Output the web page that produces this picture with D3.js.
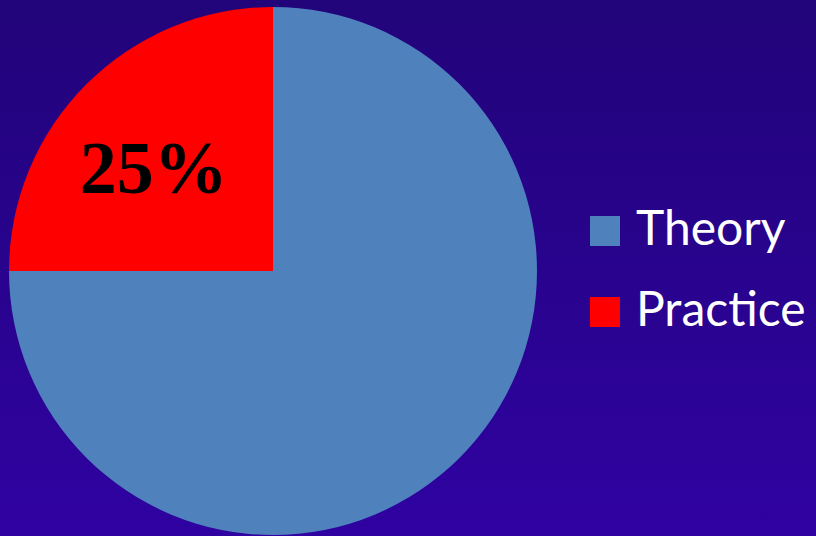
<!DOCTYPE html>
<html>
<head>
<meta charset="utf-8">
<script src="https://cdn.jsdelivr.net/npm/d3@7"></script>
<style>
  html, body { margin: 0; padding: 0; background: #22047a; }
  svg { display: block; }
</style>
</head>
<body>
<svg id="chart" width="816" height="536"></svg>
<script>
// Share of time split between theory and practice
const categories = ["Theory", "Practice"];
const values = [75, 25];
const colors = ["#4f81bd", "#ff0000"];
const sliceLabels = ["", "25%"];

const width = 816, height = 536;
const svg = d3.select("#chart");

// Background gradient, dark navy to violet
const defs = svg.append("defs");
const grad = defs.append("linearGradient")
  .attr("id", "bg").attr("x1", 0).attr("y1", 0).attr("x2", 0).attr("y2", 1);
grad.append("stop").attr("offset", "0%").attr("stop-color", "#22047a");
grad.append("stop").attr("offset", "100%").attr("stop-color", "#2f02a1");
svg.append("rect").attr("width", width).attr("height", height).attr("fill", "url(#bg)");

const cx = 273, cy = 271, r = 264;
const color = d3.scaleOrdinal().domain(categories).range(colors);

const pie = d3.pie().sort(null).value(d => d.value);
const data = categories.map((c, i) => ({ name: c, value: values[i], label: sliceLabels[i] }));
const arcs = pie(data);
const arc = d3.arc().innerRadius(0).outerRadius(r);

const g = svg.append("g").attr("transform", `translate(${cx},${cy})`);
g.selectAll("path").data(arcs).join("path")
  .attr("d", arc)
  .attr("fill", d => color(d.data.name));

// Value label inside the practice slice, nudged left and down from the slice centroid
const labelArc = d3.arc().innerRadius(r * 0.5).outerRadius(r * 0.5);
g.selectAll("text.val").data(arcs.filter(d => d.data.label)).join("text")
  .attr("class", "val")
  .attr("x", d => labelArc.centroid(d)[0] - 26)
  .attr("y", d => labelArc.centroid(d)[1] + 15)
  .attr("text-anchor", "middle")
  .attr("font-family", "'Liberation Serif', 'Times New Roman', serif")
  .attr("font-weight", "bold")
  .attr("font-size", 74)
  .attr("fill", "#000")
  .text(d => d.data.label);

// Legend
const legend = svg.append("g").attr("transform", "translate(590,216)");
const items = legend.selectAll("g").data(categories).join("g")
  .attr("transform", (d, i) => `translate(0,${i * 81})`);
items.append("rect")
  .attr("width", 30).attr("height", 30)
  .attr("fill", d => color(d));
items.append("text")
  .attr("x", 46).attr("y", 29)
  .attr("font-family", "Lato, 'Open Sans', sans-serif")
  .attr("font-size", 48)
  .attr("fill", "#fff")
  .text(d => d);
</script>
</body>
</html>
